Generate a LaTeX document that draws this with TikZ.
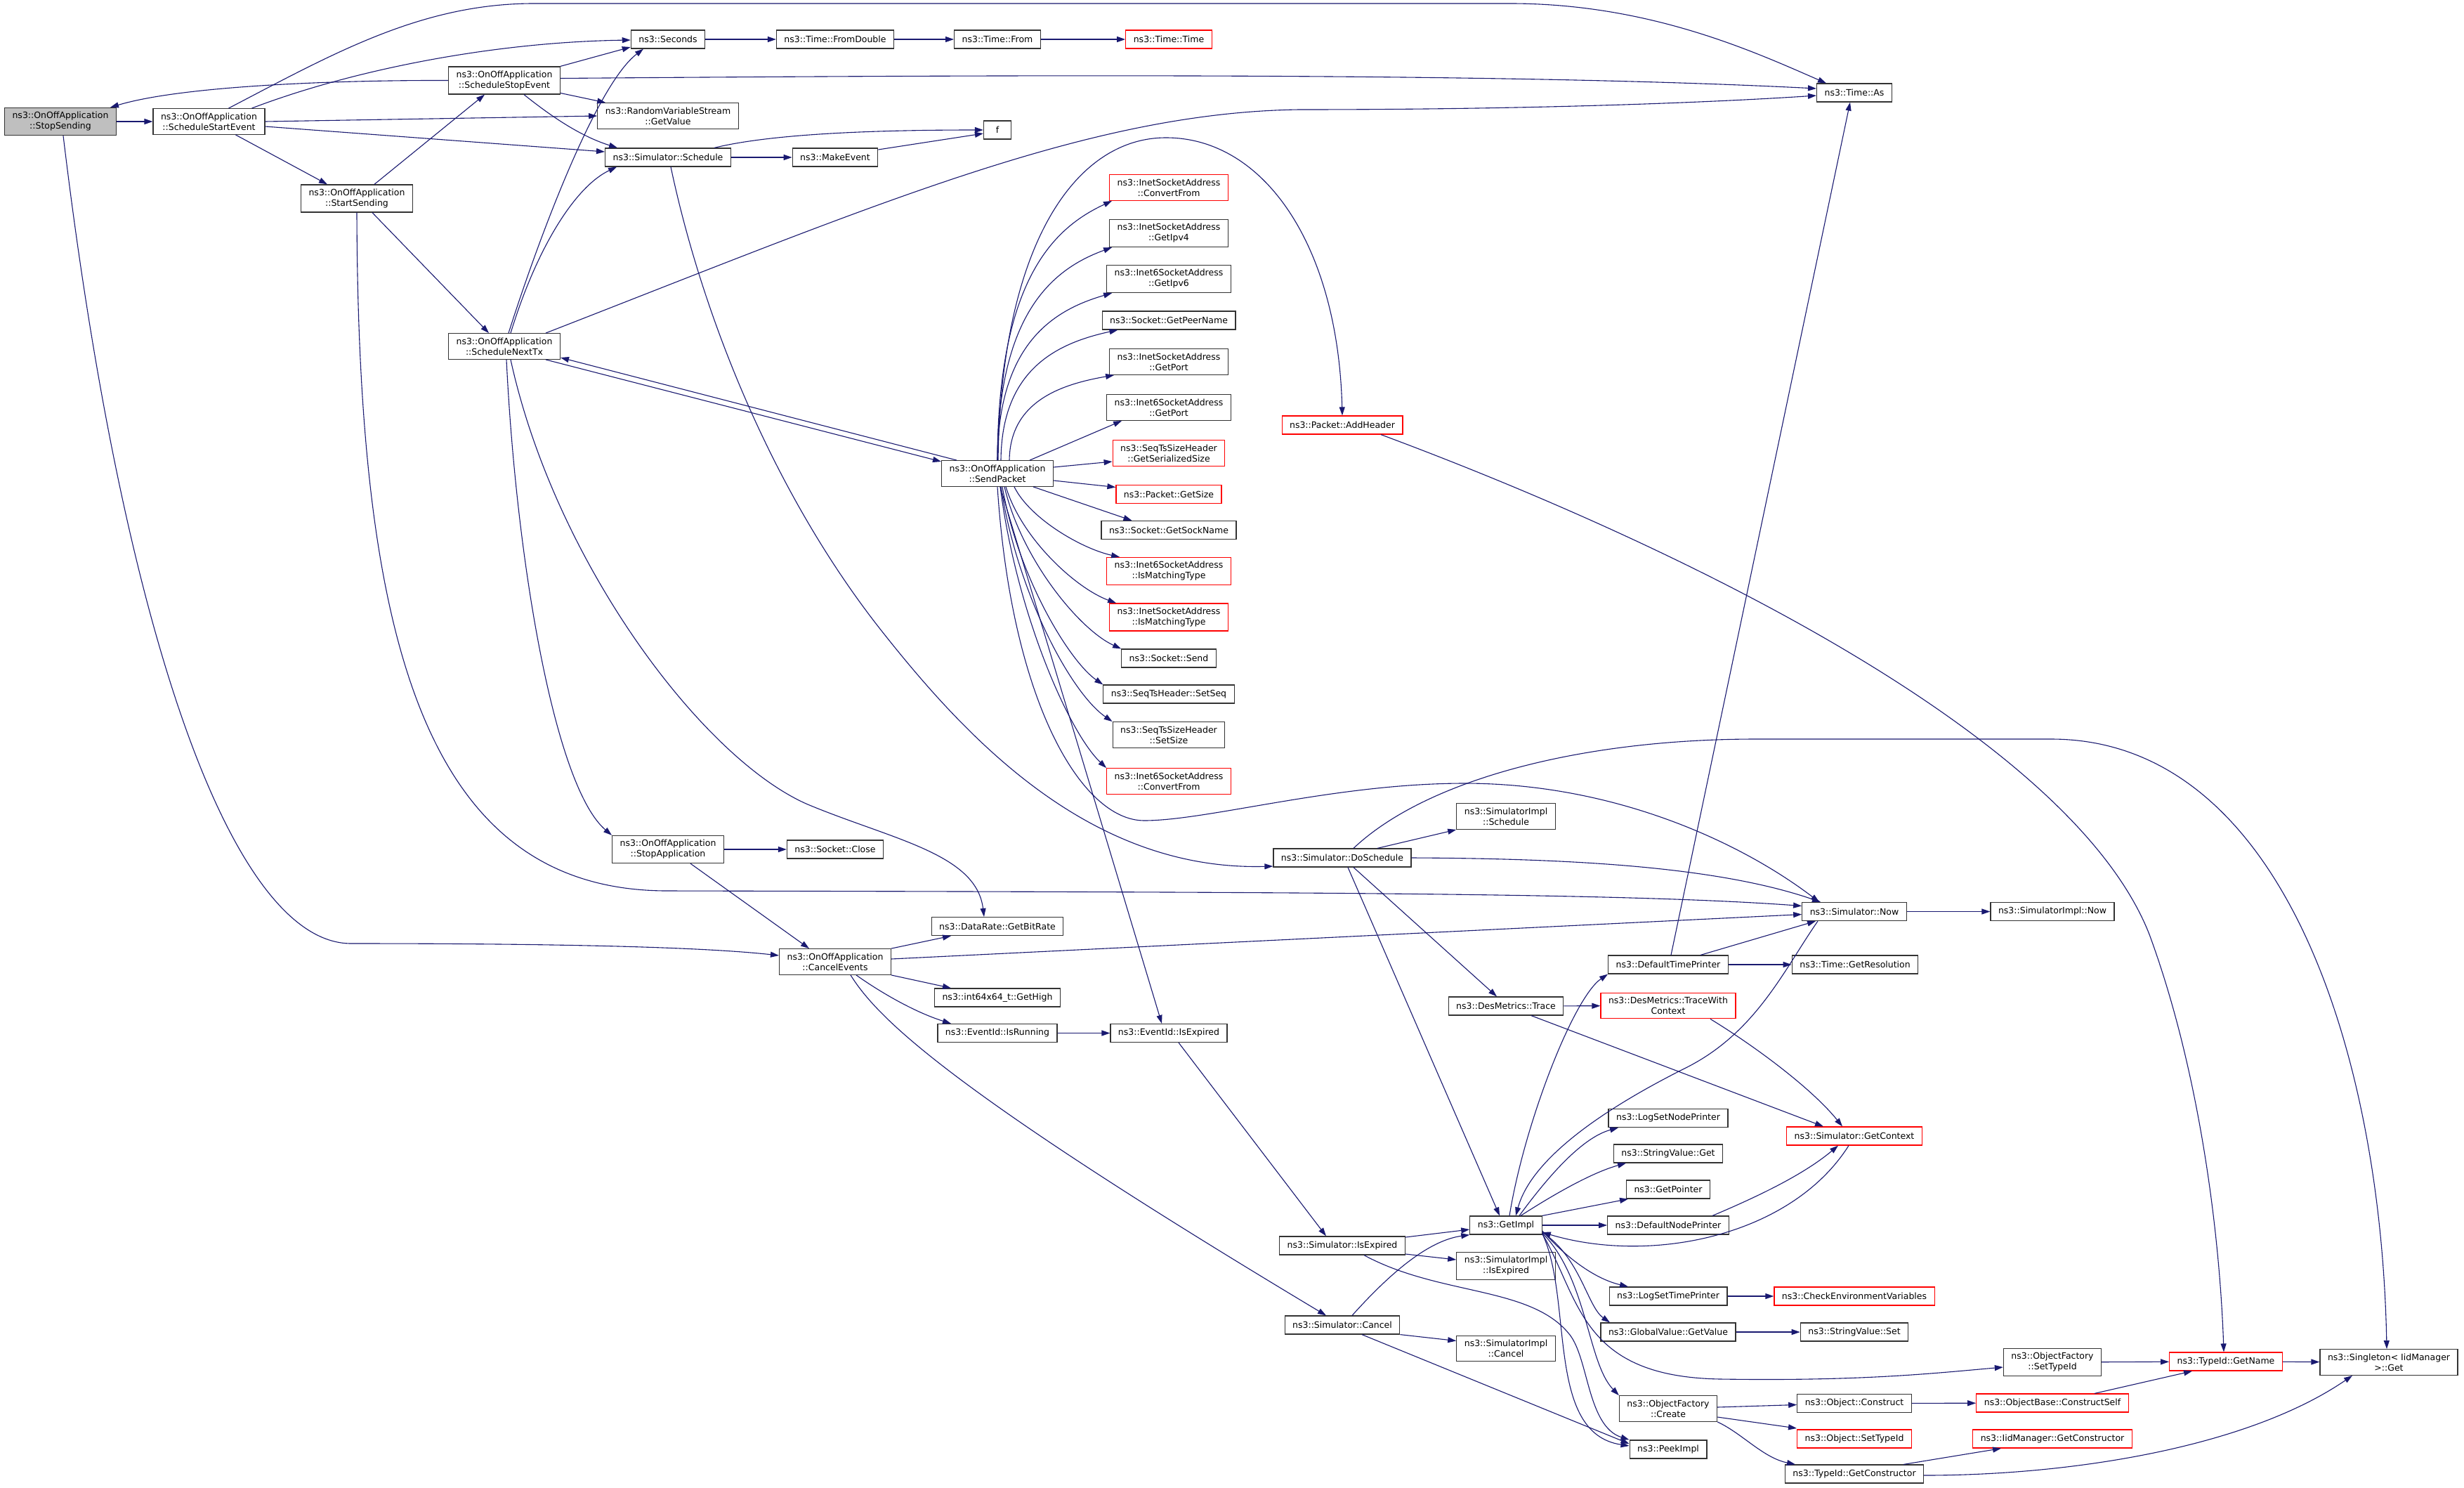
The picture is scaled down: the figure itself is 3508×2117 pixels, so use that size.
\documentclass[tikz,border=0pt]{standalone}
\usepackage{fontspec}
\newfontfamily\doxfont{DejaVu Sans}
\usetikzlibrary{arrows.meta, calc}
\definecolor{edgeblue}{HTML}{191970}
\definecolor{nodered}{HTML}{FF0000}
\definecolor{nodegray}{HTML}{BFBFBF}

\begin{document}
\begin{tikzpicture}[
    x=1pt, y=-1pt,
    every node/.style={font=\doxfont\fontsize{12.5}{15}\selectfont},
    fn/.style={
        rectangle,
        draw=black!80,
        line width=1.2pt,
        fill=white,
        align=center,
        inner xsep=11pt,
        inner ysep=6pt,
        minimum height=26pt
    },
    fnred/.style={fn, draw=nodered},
    fnroot/.style={fn, fill=nodegray},
    call/.style={
        draw=edgeblue,
        line width=1.1pt,
        -{Triangle[length=12pt,width=8pt]}
    }
]

\path[use as bounding box, fill=white] (0,0) rectangle (3508,2117);

% OnOffApplication
\node (stop) [fnroot] at (86,173) {ns3::OnOffApplication\\::StopSending};
\node (sstart) [fn] at (297.5,173) {ns3::OnOffApplication\\::ScheduleStartEvent};
\node (sstop) [fn] at (718,114.5) {ns3::OnOffApplication\\::ScheduleStopEvent};
\node (startsnd) [fn] at (508,282.5) {ns3::OnOffApplication\\::StartSending};
\node (nexttx) [fn] at (718,493) {ns3::OnOffApplication\\::ScheduleNextTx};
\node (sendpkt) [fn] at (1420,674) {ns3::OnOffApplication\\::SendPacket};
\node (stopapp) [fn] at (951,1209) {ns3::OnOffApplication\\::StopApplication};
\node (cancelev) [fn] at (1189,1369) {ns3::OnOffApplication\\::CancelEvents};

% Time and scheduling
\node (seconds) [fn] at (951,56) {ns3::Seconds};
\node (fromdbl) [fn] at (1189,56) {ns3::Time::FromDouble};
\node (tfrom) [fn] at (1420,56) {ns3::Time::From};
\node (ttime) [fnred] at (1664,56) {ns3::Time::Time};
\node (timeas) [fn] at (2640,132) {ns3::Time::As};
\node (rvs) [fn] at (951,165) {ns3::RandomVariableStream\\::GetValue};
\node (ff) [fn, minimum width=39pt] at (1420,185) {f};
\node (sched) [fn] at (951,224) {ns3::Simulator::Schedule};
\node (mkev) [fn] at (1189,224) {ns3::MakeEvent};

% SendPacket callees
\node (inetconv) [fnred] at (1664,267) {ns3::InetSocketAddress\\::ConvertFrom};
\node (ipv4) [fn] at (1664,332) {ns3::InetSocketAddress\\::GetIpv4};
\node (ipv6) [fn] at (1664,397) {ns3::Inet6SocketAddress\\::GetIpv6};
\node (peer) [fn] at (1664,456) {ns3::Socket::GetPeerName};
\node (inetport) [fn] at (1664,515) {ns3::InetSocketAddress\\::GetPort};
\node (inet6port) [fn] at (1664,580) {ns3::Inet6SocketAddress\\::GetPort};
\node (sersize) [fnred] at (1664,645) {ns3::SeqTsSizeHeader\\::GetSerializedSize};
\node (getsize) [fnred] at (1664,703.5) {ns3::Packet::GetSize};
\node (sockname) [fn] at (1664,754.5) {ns3::Socket::GetSockName};
\node (i6match) [fnred] at (1664,813) {ns3::Inet6SocketAddress\\::IsMatchingType};
\node (imatch) [fnred] at (1664,878.5) {ns3::InetSocketAddress\\::IsMatchingType};
\node (send) [fn] at (1664,937) {ns3::Socket::Send};
\node (setseq) [fn] at (1664,988) {ns3::SeqTsHeader::SetSeq};
\node (setsize) [fn] at (1664,1046) {ns3::SeqTsSizeHeader\\::SetSize};
\node (i6conv) [fnred] at (1664,1112) {ns3::Inet6SocketAddress\\::ConvertFrom};
\node (addhdr) [fnred] at (1911,605) {ns3::Packet::AddHeader};

% Events
\node (close) [fn] at (1189,1209) {ns3::Socket::Close};
\node (bitrate) [fn] at (1420,1318.5) {ns3::DataRate::GetBitRate};
\node (gethigh) [fn] at (1420,1420) {ns3::int64x64\_t::GetHigh};
\node (isrun) [fn] at (1420,1470.5) {ns3::EventId::IsRunning};
\node (evexp) [fn] at (1664,1470.5) {ns3::EventId::IsExpired};

% Simulator
\node (implsched) [fn] at (2144,1162) {ns3::SimulatorImpl\\::Schedule};
\node (dosched) [fn] at (1911,1221) {ns3::Simulator::DoSchedule};
\node (now) [fn] at (2640,1297.5) {ns3::Simulator::Now};
\node (implnow) [fn] at (2922,1297.5) {ns3::SimulatorImpl::Now};
\node (dtp) [fn] at (2375,1373) {ns3::DefaultTimePrinter};
\node (resol) [fn] at (2641,1373) {ns3::Time::GetResolution};
\node (trace) [fn] at (2144,1432) {ns3::DesMetrics::Trace};
\node (tracectx) [fnred] at (2375,1431.5) {ns3::DesMetrics::TraceWith\\Context};
\node (getctx) [fnred] at (2640,1617) {ns3::Simulator::GetContext};
\node (lsnp) [fn] at (2375,1591.5) {ns3::LogSetNodePrinter};
\node (svget) [fn] at (2375,1642) {ns3::StringValue::Get};
\node (getptr) [fn] at (2375,1693) {ns3::GetPointer};
\node (dnp) [fn] at (2375,1744) {ns3::DefaultNodePrinter};
\node (getimpl) [fn] at (2144,1744) {ns3::GetImpl};
\node (simexp) [fn] at (1911,1773) {ns3::Simulator::IsExpired};
\node (implexp) [fn] at (2144,1802) {ns3::SimulatorImpl\\::IsExpired};
\node (lstp) [fn] at (2375,1845) {ns3::LogSetTimePrinter};
\node (checkenv) [fnred] at (2640,1845) {ns3::CheckEnvironmentVariables};
\node (gvget) [fn] at (2375,1896) {ns3::GlobalValue::GetValue};
\node (svset) [fn] at (2640,1896) {ns3::StringValue::Set};
\node (cancel) [fn] at (1911,1886) {ns3::Simulator::Cancel};
\node (implcancel) [fn] at (2144,1919.5) {ns3::SimulatorImpl\\::Cancel};
\node (peek) [fn] at (2375,2063) {ns3::PeekImpl};

% Object factory
\node (ofcreate) [fn] at (2375,2005) {ns3::ObjectFactory\\::Create};
\node (objcons) [fn] at (2640,1997.5) {ns3::Object::Construct};
\node (objsettid) [fnred] at (2640,2048) {ns3::Object::SetTypeId};
\node (getcons) [fn] at (2640,2098) {ns3::TypeId::GetConstructor};
\node (ofsettid) [fn] at (2922,1939) {ns3::ObjectFactory\\::SetTypeId};
\node (consself) [fnred] at (2922,1997) {ns3::ObjectBase::ConstructSelf};
\node (iidcons) [fnred] at (2922,2048) {ns3::IidManager::GetConstructor};
\node (getname) [fnred] at (3169,1938) {ns3::TypeId::GetName};
\node (single) [fn] at (3401,1939) {ns3::Singleton< IidManager\\>::Get};

% Calls - StopSending
\draw[call] (stop) -- (sstart);
\draw[call] ([xshift=4pt]stop.south) .. controls (175,900) and (330,1343) .. (500,1343) .. controls (800,1343) and (1000,1348) .. ([yshift=9pt]cancelev.west);

% Calls - ScheduleStartEvent
\draw[call] ([xshift=61pt]sstart.north) .. controls (500,100) and (700,60) .. ([yshift=-1pt]seconds.west);
\draw[call] ([xshift=28pt]sstart.north) .. controls (475,76) and (600,5) .. (760,5) -- (2150,5) .. controls (2350,5) and (2500,75) .. ([xshift=-40pt]timeas.north);
\draw[call] (sstart.east) -- (rvs.west);
\draw[call] ([yshift=-7pt]sstart.east) -- ([yshift=8pt]sched.west);
\draw[call] ([xshift=38pt]sstart.south) -- ([xshift=-42pt]startsnd.north);

% Calls - ScheduleStopEvent
\draw[call] (sstop.west) .. controls (480,114) and (260,122) .. ([xshift=71pt]stop.north);
\draw[call] (sstop.north east) -- ([yshift=-11pt]seconds.west);
\draw[call] ([yshift=3pt]sstop.east) .. controls (1500,106) and (2150,104) .. ([yshift=6pt]timeas.west);
\draw[call] ([yshift=-18pt]sstop.east) -- ([xshift=12pt]rvs.north west);
\draw[call] ([xshift=28pt]sstop.south) .. controls (790,170) and (830,195) .. ([xshift=18pt]sched.north west);

% Calls - StartSending
\draw[call] ([xshift=25pt]startsnd.north) -- ([xshift=-28pt]sstop.south);
\draw[call] ([xshift=22pt]startsnd.south) -- ([xshift=-22pt]nexttx.north);
\draw[call] (startsnd.south) .. controls (510,900) and (600,1268) .. (950,1268) .. controls (1800,1270) and (2300,1270) .. ([yshift=8pt]now.west);

% Calls - ScheduleNextTx
\draw[call] ([xshift=6pt]nexttx.north) .. controls (770,330) and (850,120) .. ([xshift=-35pt]seconds.south);
\draw[call] ([xshift=9pt]nexttx.north) .. controls (765,350) and (820,265) .. ([xshift=17pt]sched.south west);
\draw[call] ([xshift=59pt]nexttx.north) .. controls (1250,290) and (1550,160) .. (1850,156) .. controls (2200,156) and (2450,145) .. ([yshift=-4pt]timeas.west);
\draw[call] ([xshift=59pt]nexttx.south) -- ([yshift=17pt]sendpkt.west);
\draw[call] ([xshift=3pt]nexttx.south) .. controls (735,800) and (790,1120) .. (stopapp.north west);
\draw[call] ([xshift=9pt]nexttx.south) .. controls (790,800) and (1000,1080) .. (1150,1145) .. controls (1270,1195) and (1390,1215) .. ([xshift=-19pt]bitrate.north);

% Calls - Schedule
\draw[call] (sched) -- (mkev);
\draw[call] ([xshift=66pt]sched.north) .. controls (1100,190) and (1250,185) .. (ff.west);
\draw[call] ([yshift=11pt]mkev.east) -- ([yshift=-5pt]ff.west);
\draw[call] ([xshift=4pt]sched.south) .. controls (1000,450) and (1100,700) .. (1252,894) .. controls (1374,1049) and (1550,1240) .. ([yshift=-12pt]dosched.west);
\draw[call] (seconds) -- (fromdbl);
\draw[call] (fromdbl) -- (tfrom);
\draw[call] (tfrom) -- (ttime);

% Calls - SendPacket
\draw[call] (sendpkt.north) .. controls (1421,397) and (1501,324) .. ([xshift=4pt]inetconv.south west);
\draw[call] (sendpkt.north) .. controls (1421,443) and (1501,382) .. ([xshift=4pt]ipv4.south west);
\draw[call] (sendpkt.north) .. controls (1421,488) and (1501,441) .. ([xshift=8pt]ipv6.south west);
\draw[call] ([xshift=5pt]sendpkt.north) .. controls (1426,524) and (1507,488) .. ([xshift=23pt]peer.south west);
\draw[call] ([xshift=17pt]sendpkt.north) .. controls (1438,571) and (1511,547) .. ([xshift=7pt]inetport.south west);
\draw[call] ([xshift=46pt]sendpkt.north) -- ([xshift=22pt]inet6port.south west);
\draw[call] ([yshift=9pt]sendpkt.east) -- ([yshift=-12pt]sersize.west);
\draw[call] ([yshift=-10pt]sendpkt.east) -- ([yshift=10pt]getsize.west);
\draw[call] ([xshift=51pt]sendpkt.south) -- ([xshift=44pt]sockname.north west);
\draw[call] ([xshift=24pt]sendpkt.south) .. controls (1466,738) and (1540,781) .. ([xshift=19pt]i6match.north west);
\draw[call] ([xshift=12pt]sendpkt.south) .. controls (1455,768) and (1533,838) .. ([xshift=10pt]imatch.north west);
\draw[call] ([xshift=10pt]sendpkt.south) .. controls (1455,798) and (1538,897) .. (send.north west);
\draw[call] ([xshift=7pt]sendpkt.south) .. controls (1449,820) and (1522,941) .. (setseq.north west);
\draw[call] ([xshift=5pt]sendpkt.south) .. controls (1448,843) and (1524,986) .. (setsize.north west);
\draw[call] ([xshift=4pt]sendpkt.south) .. controls (1447,873) and (1522,1043) .. (i6conv.north west);
\draw[call] ([xshift=1pt]sendpkt.north) .. controls (1425,350) and (1530,196) .. (1660,196) .. controls (1800,196) and (1905,350) .. (addhdr.north);
\draw[call] ([xshift=4pt]sendpkt.south) -- ([xshift=-10pt]evexp.north);
\draw[call] (sendpkt.south) .. controls (1440,1000) and (1540,1168) .. (1629,1168) .. controls (1720,1168) and (1900,1115) .. (2085,1115) .. controls (2300,1115) and (2480,1200) .. ([xshift=-50pt]now.north);
\draw[call] ([xshift=-58pt]sendpkt.north) -- ([yshift=-16pt]nexttx.east);

% Calls - StopApplication and CancelEvents
\draw[call] (stopapp) -- (close);
\draw[call] ([xshift=32pt]stopapp.south) -- ([xshift=-37pt]cancelev.north);
\draw[call] (cancelev.north east) -- ([xshift=-66pt]bitrate.south);
\draw[call] ([yshift=4pt]cancelev.east) -- ([yshift=-4pt]now.west);
\draw[call] (cancelev.south east) -- ([xshift=-66pt]gethigh.north);
\draw[call] ([xshift=30pt]cancelev.south) .. controls (1250,1410) and (1300,1440) .. ([xshift=-66pt]isrun.north);
\draw[call] ([xshift=22pt]cancelev.south) .. controls (1250,1450) and (1350,1550) .. ([xshift=-23pt]cancel.north);
\draw[call] (isrun) -- (evexp);
\draw[call] ([xshift=14pt]evexp.south) -- ([xshift=-23pt]simexp.north);

% Calls - DoSchedule
\draw[call] ([xshift=50pt]dosched.north) -- (implsched.south west);
\draw[call] (dosched.east) .. controls (2250,1222) and (2450,1235) .. ([xshift=-48pt]now.north);
\draw[call] ([xshift=16pt]dosched.north) .. controls (2030,1110) and (2250,1052) .. (2500,1052) -- (2920,1052) .. controls (3250,1052) and (3390,1500) .. ([xshift=-3pt]single.north);
\draw[call] ([xshift=16pt]dosched.south) -- ([xshift=-13pt]trace.north);
\draw[call] ([xshift=8pt]dosched.south) -- ([xshift=-9pt]getimpl.north);
\draw[call] (trace) -- (tracectx);
\draw[call] ([xshift=36pt]trace.south) -- ([xshift=-44pt]getctx.north);
\draw[call] ([xshift=60pt]tracectx.south) .. controls (2500,1490) and (2580,1550) .. ([xshift=-17pt]getctx.north);

% Calls - printers and Now
\draw[call] ([xshift=4pt]dtp.north) -- ([xshift=-6pt]timeas.south);
\draw[call] ([xshift=46pt]dtp.north) -- ([xshift=-55pt]now.south);
\draw[call] (dtp) -- (resol);
\draw[call] (now) -- (implnow);
\draw[call] ([xshift=-52pt]now.south) .. controls (2540,1380) and (2500,1470) .. (2400,1520) .. controls (2280,1580) and (2180,1650) .. ([xshift=14pt]getimpl.north);

% Calls - GetImpl
\draw[call] ([xshift=19pt]getimpl.north) .. controls (2200,1680) and (2250,1620) .. ([xshift=-71pt]lsnp.south);
\draw[call] ([xshift=21pt]getimpl.north) .. controls (2220,1695) and (2270,1668) .. ([xshift=-60pt]svget.south);
\draw[call] (getimpl.north east) -- ([xshift=-57pt]getptr.south);
\draw[call] (getimpl) -- (dnp);
\draw[call] ([xshift=5pt]getimpl.north) .. controls (2170,1600) and (2240,1420) .. (dtp.south west);
\draw[call] ([yshift=-8pt]getimpl.east) .. controls (2230,1790) and (2270,1820) .. ([xshift=-57pt]lstp.north);
\draw[call] ([yshift=-10pt]getimpl.east) .. controls (2250,1790) and (2260,1860) .. ([xshift=-83pt]gvget.north);
\draw[call] ([yshift=-11pt]getimpl.east) .. controls (2260,1820) and (2260,1940) .. (ofcreate.north west);
\draw[call] ([yshift=-12pt]getimpl.east) .. controls (2250,1850) and (2250,1960) .. (2450,1963) .. controls (2650,1966) and (2750,1955) .. ([yshift=-7pt]ofsettid.west);
\draw[call] ([yshift=-12pt]getimpl.east) .. controls (2240,1850) and (2200,2040) .. ([yshift=5pt]peek.west);
\draw[call] ([xshift=-8pt]getctx.south) .. controls (2550,1760) and (2350,1800) .. ([yshift=-10pt]getimpl.east);
\draw[call] ([xshift=63pt]dnp.north) .. controls (2510,1700) and (2570,1670) .. ([xshift=-23pt]getctx.south);

% Calls - IsExpired and Cancel
\draw[call] ([yshift=12pt]simexp.east) -- ([yshift=-6pt]getimpl.west);
\draw[call] ([yshift=-12pt]simexp.east) -- ([yshift=9pt]implexp.west);
\draw[call] ([xshift=31pt]simexp.south) .. controls (2050,1845) and (2180,1830) .. (2235,1900) .. controls (2262,1935) and (2260,2030) .. (peek.north west);
\draw[call] ([xshift=14pt]cancel.north) .. controls (1990,1800) and (2040,1765) .. (getimpl.south west);
\draw[call] (cancel.south east) -- ([yshift=11pt]implcancel.west);
\draw[call] ([xshift=28pt]cancel.south) -- ([yshift=8pt]peek.west);

% Calls - values, factory, type ids
\draw[call] (lstp) -- (checkenv);
\draw[call] (gvget) -- (svset);
\draw[call] ([yshift=2pt]ofcreate.east) -- ([yshift=-2pt]objcons.west);
\draw[call] ([yshift=-12pt]ofcreate.east) -- ([yshift=15pt]objsettid.west);
\draw[call] (ofcreate.south east) .. controls (2480,2040) and (2510,2075) .. ([xshift=-84pt]getcons.north);
\draw[call] (objcons) -- (consself);
\draw[call] ([xshift=60pt]consself.north) -- ([xshift=-48pt]getname.south);
\draw[call] (ofsettid) -- (getname);
\draw[call] (getname) -- (single);
\draw[call] ([xshift=70pt]getcons.north) -- ([xshift=-73pt]iidcons.south);
\draw[call] ([yshift=-2pt]getcons.east) .. controls (2950,2100) and (3200,2060) .. ([xshift=-52pt]single.south);
\draw[call] ([xshift=55pt]addhdr.south) .. controls (2400,780) and (2950,1050) .. (3060,1330) .. controls (3130,1520) and (3160,1750) .. ([xshift=-3pt]getname.north);

\end{tikzpicture}
\end{document}
